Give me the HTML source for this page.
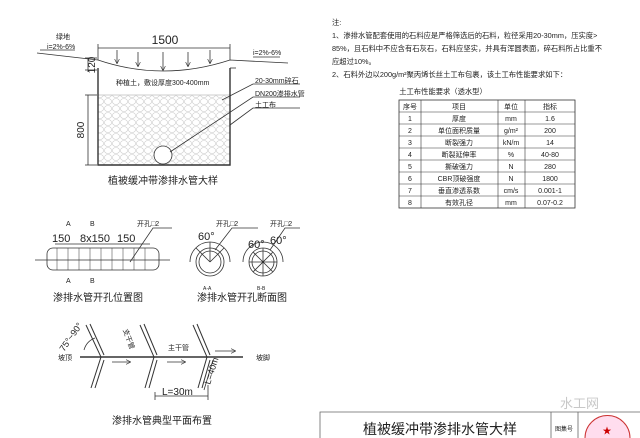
<!DOCTYPE html>
<html><head><meta charset="utf-8"><style>
body{margin:0;background:#fff;}
svg{display:block}
text{font-family:"Liberation Sans","Noto Sans CJK SC",sans-serif;fill:#222}
</style></head><body>
<svg width="640" height="438" viewBox="0 0 640 438" xmlns="http://www.w3.org/2000/svg">
<defs>
<pattern id="grav" width="8" height="7" patternUnits="userSpaceOnUse">
<ellipse cx="4" cy="3.5" rx="3.6" ry="3" fill="none" stroke="#ccc" stroke-width="0.6"/>
</pattern>
<marker id="ar" markerWidth="6" markerHeight="6" refX="5" refY="3" orient="auto"><path d="M0,0 L6,3 L0,6" fill="none" stroke="#333" stroke-width="0.8"/></marker>
</defs>
<g stroke="#333" fill="none" stroke-width="0.8">
<rect x="98" y="95" width="132" height="70" fill="url(#grav)" stroke="none"/>
<line x1="98" y1="95" x2="230" y2="95" stroke="#bbb"/>
<path d="M98,68 V165 H230 V68" stroke-width="1.4"/>
<path d="M37,53 L98,60 Q163,82 230,60 L288,63"/>
<line x1="230" y1="68" x2="236" y2="68"/>
<line x1="98" y1="48" x2="230" y2="48"/><line x1="98" y1="44" x2="98" y2="60"/><line x1="230" y1="44" x2="230" y2="60"/>
<g marker-end="url(#ar)"><line x1="117" y1="50" x2="117" y2="63"/><line x1="138" y1="52" x2="138" y2="66"/><line x1="163" y1="52" x2="163" y2="70"/><line x1="188" y1="52" x2="188" y2="66"/><line x1="210" y1="50" x2="210" y2="63"/></g>
<line x1="88" y1="58" x2="88" y2="72"/><line x1="85" y1="58" x2="97" y2="58"/><line x1="85" y1="70" x2="97" y2="70"/>
<line x1="88" y1="95" x2="88" y2="165"/><line x1="85" y1="95" x2="97" y2="95"/><line x1="85" y1="165" x2="97" y2="165"/>
<circle cx="163" cy="155" r="9" fill="#fff"/>
<path d="M222,100 L253,84 H300"/><path d="M170,152 L253,97 H300"/><path d="M230,125 L253,108 H300"/>
<line x1="40" y1="50" x2="75" y2="50"/><line x1="253" y1="57" x2="280" y2="57"/>
<rect x="399" y="100" width="176" height="108"/>
<g stroke-width="0.6">
<line x1="399" y1="112" x2="575" y2="112"/><line x1="399" y1="124" x2="575" y2="124"/><line x1="399" y1="136" x2="575" y2="136"/><line x1="399" y1="148" x2="575" y2="148"/><line x1="399" y1="160" x2="575" y2="160"/><line x1="399" y1="172" x2="575" y2="172"/><line x1="399" y1="184" x2="575" y2="184"/><line x1="399" y1="196" x2="575" y2="196"/>
<line x1="421" y1="100" x2="421" y2="208"/><line x1="498" y1="100" x2="498" y2="208"/><line x1="525" y1="100" x2="525" y2="208"/>
</g>
<rect x="47" y="248" width="112" height="22" rx="6"/>
<line x1="35" y1="260" x2="170" y2="260"/>
<g stroke-width="0.5"><line x1="57" y1="248" x2="57" y2="270"/><line x1="68" y1="248" x2="68" y2="270"/><line x1="79" y1="248" x2="79" y2="270"/><line x1="90" y1="248" x2="90" y2="270"/><line x1="101" y1="248" x2="101" y2="270"/><line x1="112" y1="248" x2="112" y2="270"/><line x1="123" y1="248" x2="123" y2="270"/><line x1="134" y1="248" x2="134" y2="270"/><line x1="145" y1="248" x2="145" y2="270"/></g>
<line x1="55" y1="244" x2="150" y2="244"/>
<path d="M130,262 L153,228 H172"/>
<circle cx="210" cy="262" r="14"/><circle cx="210" cy="262" r="11"/>
<path d="M190,262 A20,20 0 0 1 230,262"/>
<path d="M210,262 L196,248 M210,262 L210,242 M210,262 L224,248 M215,250 L232,228 H258"/>
<circle cx="263" cy="262" r="14"/><circle cx="263" cy="262" r="11"/>
<path d="M249,262 H277 M263,248 V276 M253,252 L273,272 M273,252 L253,272 M270,250 L285,228 H300"/>
<path d="M243,262 A20,20 0 0 1 283,262"/>
<line x1="80" y1="357" x2="243" y2="357" stroke-width="1.4"/>
<g stroke-width="1"><path d="M86,325 L101,357 L91,388"/><path d="M90,324 L104,355"/><path d="M95,388 L104,360"/>
<path d="M140,325 L154,357 L145,388"/><path d="M144,324 L157,355"/><path d="M149,388 L157,360"/>
<path d="M193,325 L207,357 L198,388"/><path d="M197,324 L210,355"/><path d="M202,388 L210,360"/></g>
<line x1="112" y1="362" x2="130" y2="362" marker-end="url(#ar)"/><line x1="167" y1="362" x2="185" y2="362" marker-end="url(#ar)"/><line x1="215" y1="351" x2="235" y2="351" marker-end="url(#ar)"/>
<line x1="155" y1="396" x2="208" y2="396"/><line x1="155" y1="392" x2="155" y2="400"/><line x1="208" y1="385" x2="208" y2="400"/>
<line x1="213" y1="360" x2="204" y2="390"/>
<path d="M84,350 A18,18 0 0 1 95,338"/>
<path d="M320,438 V412 H640 M551,412 V438 M578,412 V438" stroke="#666"/>
</g>
<g font-size="12" text-anchor="middle"><text x="165" y="44">1500</text></g>
<g font-size="10"><text x="95" y="65" transform="rotate(-90 95 65)" text-anchor="middle">120</text><text x="84" y="130" transform="rotate(-90 84 130)" text-anchor="middle">800</text></g>
<g font-size="7"><text x="56" y="39">绿地</text><text x="47" y="49">i=2%-6%</text><text x="253" y="55">i=2%-6%</text>
<text x="116" y="85">种植土，敷设厚度300-400mm</text>
<text x="255" y="83">20-30mm碎石</text><text x="255" y="96">DN200渗排水管</text><text x="255" y="107">土工布</text></g>
<text x="163" y="184" font-size="10" text-anchor="middle">植被缓冲带渗排水管大样</text>
<g font-size="7.3"><text x="332" y="25">注:</text>
<text x="332" y="38">1、渗排水管配套使用的石料应是严格筛选后的石料，粒径采用20-30mm，压实度&gt;</text>
<text x="332" y="51">85%，且石料中不应含有石灰石，石料应坚实，并具有浑圆表面，碎石料所占比重不</text>
<text x="332" y="64">应超过10%。</text>
<text x="332" y="77">2、石料外边以200g/m²聚丙烯长丝土工布包裹，该土工布性能要求如下：</text>
<text x="443" y="94" text-anchor="middle">土工布性能要求（透水型）</text></g>
<g font-size="7" text-anchor="middle">
<text x="410" y="109">序号</text><text x="459" y="109">项目</text><text x="511" y="109">单位</text><text x="550" y="109">指标</text>
<text x="410" y="121">1</text><text x="459" y="121">厚度</text><text x="511" y="121">mm</text><text x="550" y="121">1.6</text>
<text x="410" y="133">2</text><text x="459" y="133">单位面积质量</text><text x="511" y="133">g/m²</text><text x="550" y="133">200</text>
<text x="410" y="145">3</text><text x="459" y="145">断裂强力</text><text x="511" y="145">kN/m</text><text x="550" y="145">14</text>
<text x="410" y="157">4</text><text x="459" y="157">断裂延伸率</text><text x="511" y="157">%</text><text x="550" y="157">40-80</text>
<text x="410" y="169">5</text><text x="459" y="169">撕破强力</text><text x="511" y="169">N</text><text x="550" y="169">280</text>
<text x="410" y="181">6</text><text x="459" y="181">CBR顶破强度</text><text x="511" y="181">N</text><text x="550" y="181">1800</text>
<text x="410" y="193">7</text><text x="459" y="193">垂直渗透系数</text><text x="511" y="193">cm/s</text><text x="550" y="193">0.001-1</text>
<text x="410" y="205">8</text><text x="459" y="205">有效孔径</text><text x="511" y="205">mm</text><text x="550" y="205">0.07-0.2</text></g>
<g font-size="11"><text x="52" y="242">150</text><text x="80" y="242">8x150</text><text x="117" y="242">150</text>
<text x="198" y="240">60°</text><text x="248" y="248">60°</text><text x="270" y="244">60°</text></g>
<g font-size="7"><text x="137" y="226">开孔□2</text><text x="216" y="226">开孔□2</text><text x="270" y="226">开孔□2</text>
<text x="66" y="226">A</text><text x="90" y="226">B</text><text x="66" y="283">A</text><text x="90" y="283">B</text>
<text x="203" y="290" font-size="5">A-A</text><text x="257" y="290" font-size="5">B-B</text>
<text x="58" y="360">坡顶</text><text x="256" y="360">坡脚</text><text x="168" y="350">主干管</text>
<text x="123" y="330" transform="rotate(70 123 330)">支干管</text></g>
<text x="64" y="352" font-size="9" transform="rotate(-55 64 352)">75°~90°</text>
<text x="162" y="395" font-size="10">L=30m</text>
<text x="210" y="385" font-size="9" transform="rotate(-72 210 385)">L=40m</text>
<g font-size="10" text-anchor="middle"><text x="98" y="301">渗排水管开孔位置图</text><text x="242" y="301">渗排水管开孔断面图</text><text x="162" y="424">渗排水管典型平面布置</text></g>
<text x="440" y="434" font-size="14" text-anchor="middle">植被缓冲带渗排水管大样</text>
<text x="555" y="431" font-size="6">图集号</text>
<text x="560" y="408" font-size="13" style="fill:#c8c8c8">水工网</text>
<path d="M585,438 A22,22 0 0 1 630,438" fill="#fde" stroke="#c33"/>
<text x="607" y="434" font-size="9" text-anchor="middle" style="fill:#c00">★</text>
</svg>
</body></html>
